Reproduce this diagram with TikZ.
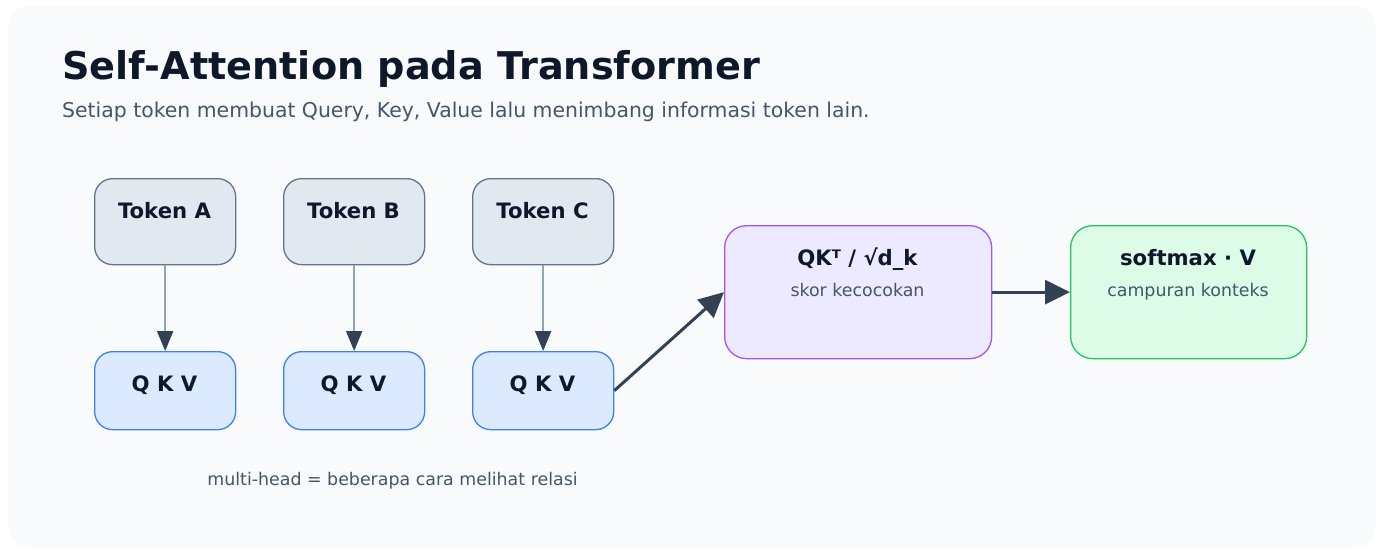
\documentclass[tikz,border=0pt]{standalone}
\usepackage{fontspec}
\setmainfont{DejaVu Sans}
\usetikzlibrary{arrows.meta}
\definecolor{panelbg}{HTML}{F8FAFC}
\definecolor{titlec}{HTML}{0F172A}
\definecolor{subc}{HTML}{475569}
\definecolor{tokfill}{HTML}{E2E8F0}
\definecolor{tokdraw}{HTML}{64748B}
\definecolor{qkvfill}{HTML}{DBEAFE}
\definecolor{qkvdraw}{HTML}{3B82F6}
\definecolor{purfill}{HTML}{EDE9FE}
\definecolor{purdraw}{HTML}{A855F7}
\definecolor{grnfill}{HTML}{DCFCE7}
\definecolor{grndraw}{HTML}{22C55E}
\definecolor{arrdark}{HTML}{334155}
\definecolor{arrlight}{HTML}{94A3B8}
\tikzset{
  box/.style={draw, rectangle, inner sep=0pt, anchor=north west, line width=1.3pt},
  tokbox/.style={box, fill=tokfill, draw=tokdraw, rounded corners=18pt, minimum width=141pt, minimum height=86pt},
  qkvbox/.style={box, fill=qkvfill, draw=qkvdraw, rounded corners=18pt, minimum width=141pt, minimum height=78pt},
  bigbox/.style={box, rounded corners=22pt, minimum height=133pt},
  lbl/.style={anchor=base, text=titlec, font=\fontsize{21.2}{25}\selectfont\bfseries, inner sep=0pt},
  sublbl/.style={anchor=base, text=subc, font=\fontsize{17.4}{20}\selectfont, inner sep=0pt},
  thinarrow/.style={draw=arrlight, line width=2pt, -{Triangle[length=20pt,width=16pt,color=arrdark]}},
  bigarrow/.style={draw=arrdark, line width=3pt, -{Triangle[length=25pt,width=24pt]}}
}
\begin{document}
\begin{tikzpicture}[x=1pt,y=-1pt]
\useasboundingbox (0,0) rectangle (1380,549);
\fill[white] (0,0) rectangle (1380,549);
\fill[panelbg, rounded corners=24pt] (8,5) rectangle (1376,548);

\node[anchor=base west, inner sep=0pt, text=titlec, font=\fontsize{38.2}{44}\selectfont\bfseries] (title) at (62,79) {Self-Attention pada Transformer};
\node[anchor=base west, inner sep=0pt, text=subc, font=\fontsize{20.4}{24}\selectfont] (subtitle) at (62,117.5) {Setiap token membuat Query, Key, Value lalu menimbang informasi token lain.};

\node[tokbox] (ta) at (94,178) {};
\node[tokbox] (tb) at (283,178) {};
\node[tokbox] (tc) at (472,178) {};
\node[lbl] (tal) at (164.5,218) {Token A};
\node[lbl] (tbl) at (353.5,218) {Token B};
\node[lbl] (tcl) at (542.5,218) {Token C};

\node[qkvbox] (qa) at (94,351) {};
\node[qkvbox] (qb) at (283,351) {};
\node[qkvbox] (qc) at (472,351) {};
\node[lbl] (qal) at (164.5,391) {Q K V};
\node[lbl] (qbl) at (353.5,391) {Q K V};
\node[lbl] (qcl) at (542.5,391) {Q K V};

\node[bigbox, fill=purfill, draw=purdraw, minimum width=267pt] (pu) at (724,225) {};
\node[bigbox, fill=grnfill, draw=grndraw, minimum width=236pt] (gr) at (1070,225) {};
\node[lbl] (pul) at (857.5,265) {QKᵀ / √d\_k};
\node[sublbl] (pus) at (857.5,296) {skor kecocokan};
\node[lbl] (grl) at (1188,265) {softmax · V};
\node[sublbl] (grs) at (1188,296) {campuran konteks};

\node[sublbl] (mh) at (392.5,485) {multi-head = beberapa cara melihat relasi};

\draw[thinarrow] (ta.south) -- (qa.north);
\draw[thinarrow] (tb.south) -- (qb.north);
\draw[thinarrow] (tc.south) -- (qc.north);
\draw[bigarrow] (qc.east) -- (pu.west);
\draw[bigarrow] (pu.east) -- (gr.west);
\end{tikzpicture}
\end{document}
